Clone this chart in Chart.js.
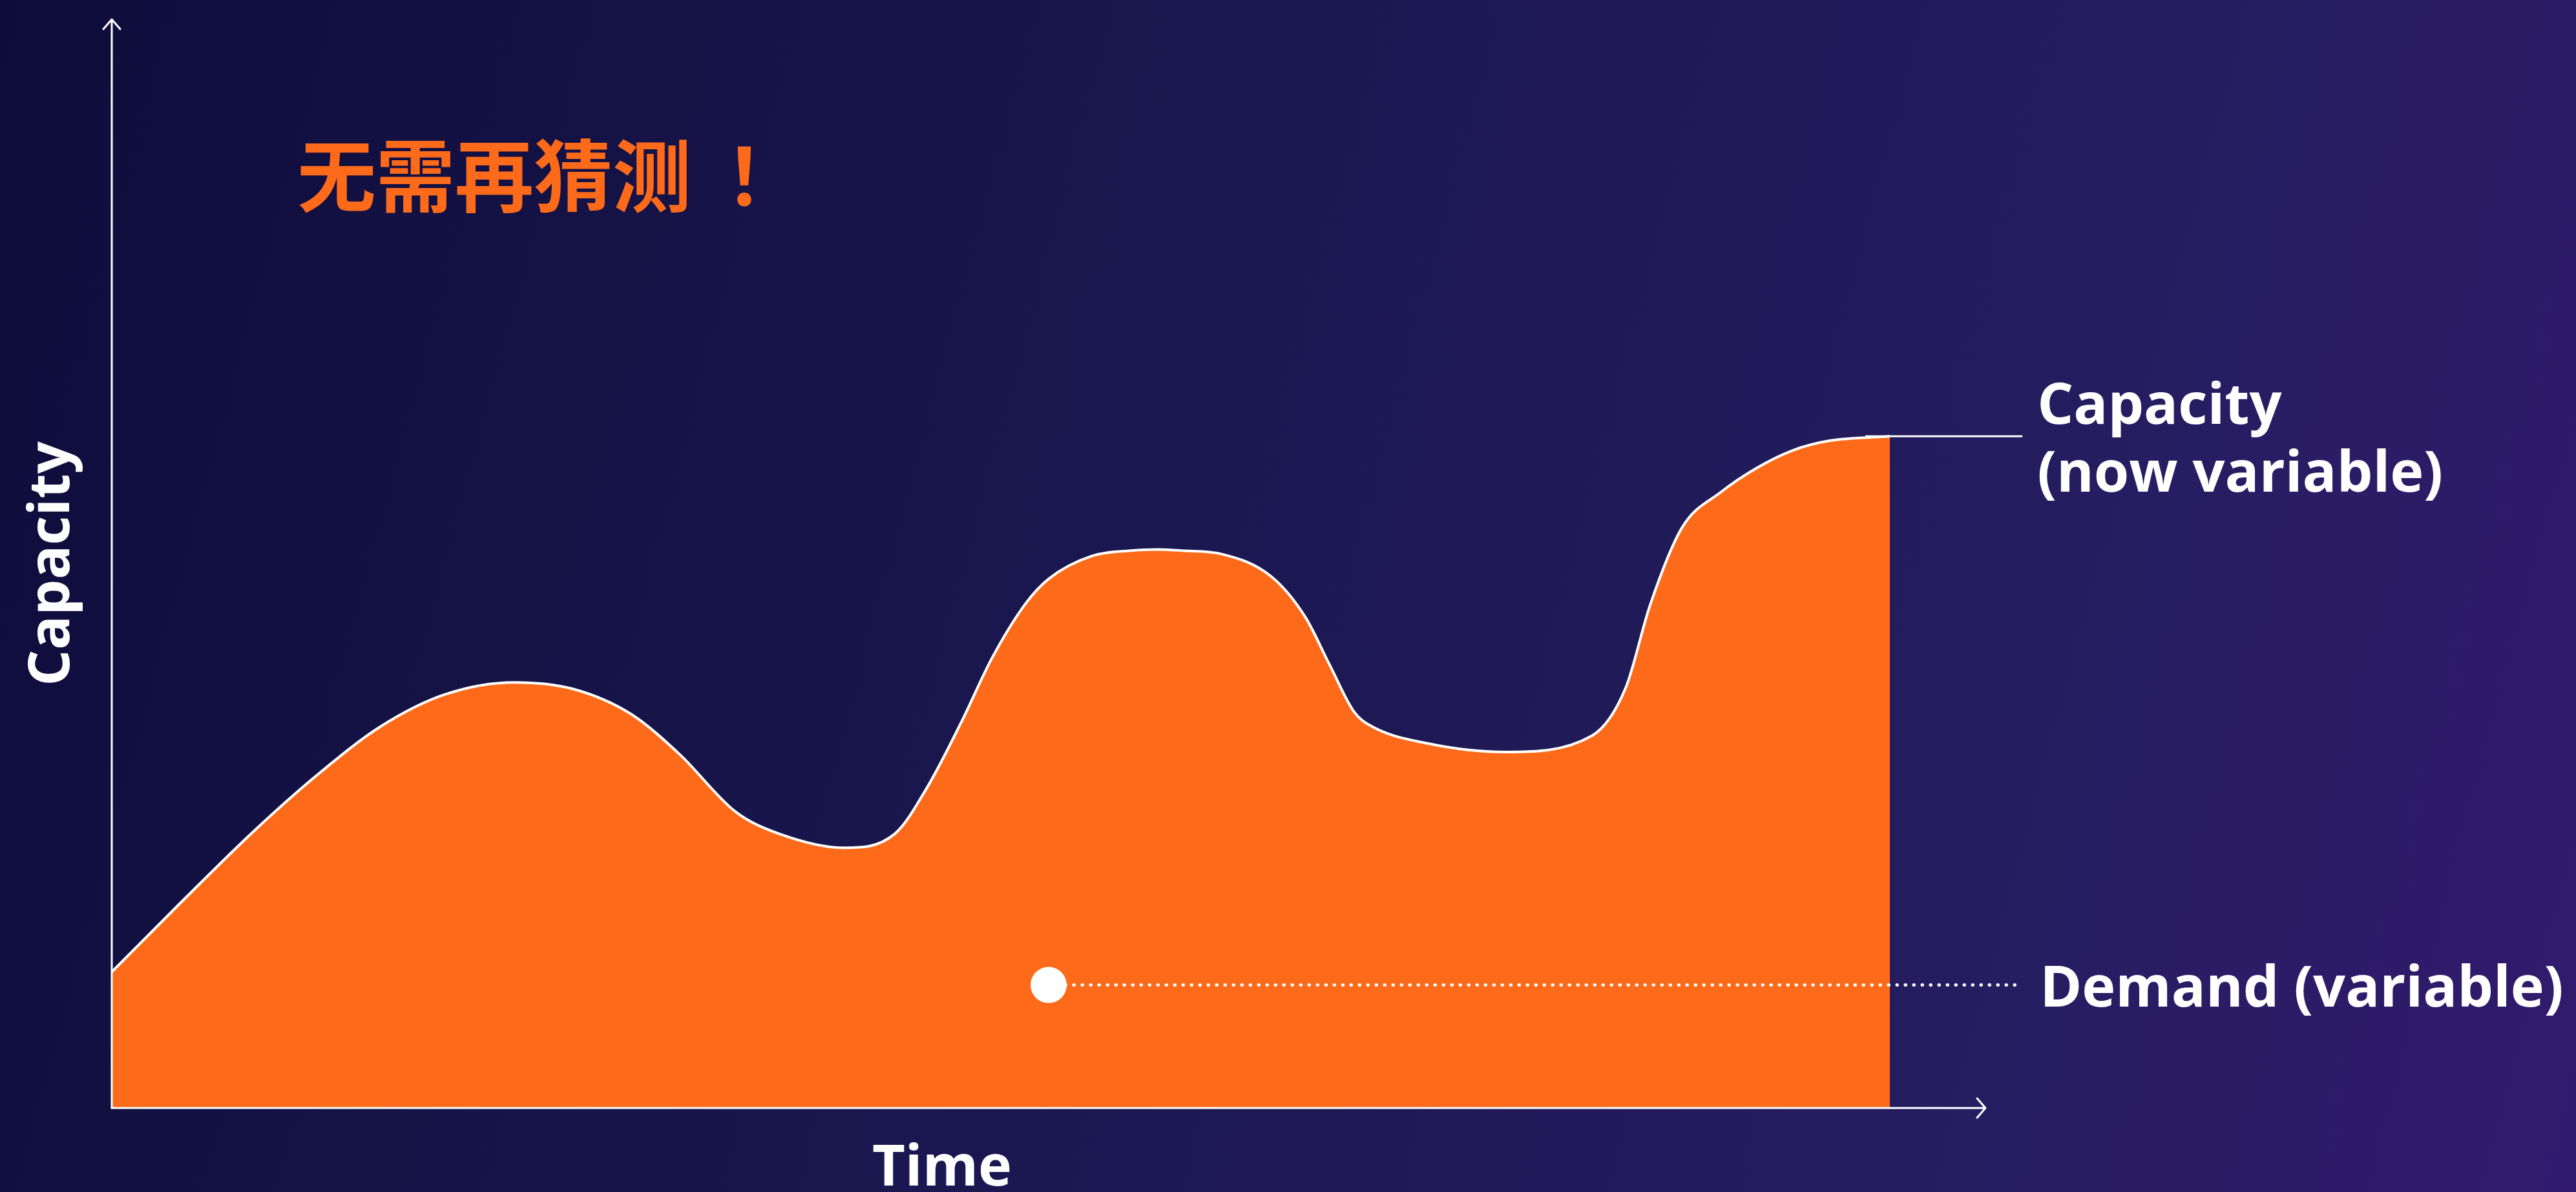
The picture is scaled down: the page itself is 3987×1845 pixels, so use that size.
<!DOCTYPE html>
<html>
<head>
<meta charset="utf-8">
<script src="https://cdn.jsdelivr.net/npm/chart.js@4.4.1/dist/chart.umd.min.js"></script>
<style>
  html, body { margin: 0; padding: 0; }
  body {
    width: 3987px; height: 1845px; overflow: hidden;
    background: linear-gradient(105deg, #0e0c3a 0%, #17144a 30%, #1e1955 55%, #271d62 80%, #311a6d 100%);
  }
  #wrap { position: relative; width: 3987px; height: 1845px; }
</style>
</head>
<body>
<div id="wrap"><canvas id="chart"></canvas></div>
<script>
// time axis runs 0..100, capacity axis 0..100 (no ticks shown)
const timePoints = [0, 3.7, 7.5, 10.9, 14.4, 17.8, 21.5, 24.6, 27.7, 30.3, 33.3, 35.6, 39.1, 41.8,
  43.5, 45.3, 47.0, 48.8, 50.0, 52.3, 54.4, 55.8, 57.1, 59.2, 61.9, 63.7, 65.0, 66.3, 67.2, 70.2,
  74.4, 79.0, 80.8, 82.1, 83.8, 85.9, 87.8, 89.7, 91.7, 94.9];
const capacityValues = [12.5, 18.9, 25.3, 30.5, 35.1, 38.0, 39.1, 38.5, 36.2, 32.5, 27.2, 25.2, 23.9, 25.2,
  29.4, 35.3, 41.4, 46.4, 48.6, 50.7, 51.2, 51.3, 51.2, 50.9, 48.8, 45.1, 40.7, 36.4, 35.1, 33.5,
  32.7, 34.2, 38.6, 46.2, 53.3, 56.6, 58.8, 60.4, 61.3, 61.7];
const demandTime = [50.0, 101.8];
const demandValue = 11.3;

const titleText = '无需再猜测';
const titleMark = '！';
const xAxisLabel = 'Time';
const yAxisLabel = 'Capacity';
const capacityLabel = ['Capacity', '(now variable)'];
const demandLabel = 'Demand (variable)';

const orange = '#fd6a1a';
const latin = '"Open Sans", "Noto Sans", sans-serif';

const capacityData = timePoints.map((t, i) => ({ x: t, y: capacityValues[i] }));
const demandData = demandTime.map(t => ({ x: t, y: demandValue }));

// axes with arrowheads, leader line and all the text
const decorations = {
  id: 'decorations',
  afterDatasetsDraw(chart) {
    const { ctx, chartArea: area, scales: { x, y } } = chart;
    ctx.save();
    ctx.strokeStyle = '#ffffff';
    ctx.lineWidth = 3;
    ctx.lineCap = 'round';
    ctx.lineJoin = 'round';

    // y axis
    ctx.beginPath();
    ctx.moveTo(area.left, area.bottom);
    ctx.lineTo(area.left, area.top);
    ctx.moveTo(area.left - 13, area.top + 15);
    ctx.lineTo(area.left, area.top);
    ctx.lineTo(area.left + 13, area.top + 15);
    ctx.stroke();

    // x axis
    ctx.beginPath();
    ctx.moveTo(area.left, area.bottom);
    ctx.lineTo(area.right, area.bottom);
    ctx.moveTo(area.right - 13, area.bottom - 15);
    ctx.lineTo(area.right, area.bottom);
    ctx.lineTo(area.right - 13, area.bottom + 15);
    ctx.stroke();

    // capacity leader line
    const lastX = x.getPixelForValue(timePoints[timePoints.length - 1]);
    const lastY = y.getPixelForValue(capacityValues[capacityValues.length - 1]);
    const labelX = x.getPixelForValue(demandTime[1]) + 28;
    ctx.lineCap = 'butt';
    ctx.beginPath();
    ctx.moveTo(lastX - 38, lastY);
    ctx.lineTo(labelX - 23, lastY);
    ctx.stroke();

    ctx.fillStyle = '#ffffff';
    ctx.font = `bold 88px ${latin}`;
    ctx.textAlign = 'left';
    ctx.textBaseline = 'alphabetic';
    ctx.fillText(capacityLabel[0], labelX, lastY - 19);
    ctx.fillText(capacityLabel[1], labelX, lastY + 86);

    const demandY = y.getPixelForValue(demandValue);
    ctx.fillText(demandLabel, labelX + 4, demandY + 33);

    // axis titles
    ctx.textAlign = 'center';
    ctx.fillText(xAxisLabel, area.left + 1285, area.bottom + 120);
    ctx.save();
    ctx.translate(area.left - 66, (area.top + area.bottom) / 2);
    ctx.rotate(-Math.PI / 2);
    ctx.fillText(yAxisLabel, 0, 0);
    ctx.restore();

    // headline; the full-width mark is set centred in its own cell
    ctx.fillStyle = orange;
    ctx.textAlign = 'left';
    ctx.textBaseline = 'middle';
    ctx.font = 'bold 122px "Noto Sans CJK SC", sans-serif';
    const titleX = area.left + 287;
    ctx.fillText(titleText, titleX, 272);
    const w = ctx.measureText(titleText).width;
    ctx.font = 'bold 122px "Noto Sans CJK TC", sans-serif';
    ctx.textAlign = 'center';
    ctx.fillText(titleMark, titleX + w + 82, 272);
    ctx.restore();
  }
};

new Chart(document.getElementById('chart'), {
  type: 'line',
  data: {
    datasets: [
      {
        label: 'Demand',
        data: demandData,
        borderColor: '#ffffff',
        borderWidth: 5,
        borderDash: [0.5, 12.5],
        borderCapStyle: 'round',
        pointRadius: [28, 0],
        pointBackgroundColor: '#ffffff',
        pointBorderWidth: 0,
        fill: false,
        clip: false,
        order: 0
      },
      {
        label: 'Capacity',
        data: capacityData,
        borderColor: '#ffffff',
        borderWidth: 4,
        backgroundColor: orange,
        fill: 'start',
        cubicInterpolationMode: 'monotone',
        pointRadius: 0,
        order: 1
      }
    ]
  },
  options: {
    responsive: true,
    maintainAspectRatio: false,
    devicePixelRatio: 1,
    animation: false,
    layout: { padding: { left: 173, right: 914, top: 30, bottom: 130 } },
    scales: {
      x: { type: 'linear', min: 0, max: 100, display: false },
      y: { min: 0, max: 100, display: false }
    },
    plugins: {
      legend: { display: false },
      tooltip: { enabled: false }
    }
  },
  plugins: [decorations]
});
</script>
</body>
</html>
